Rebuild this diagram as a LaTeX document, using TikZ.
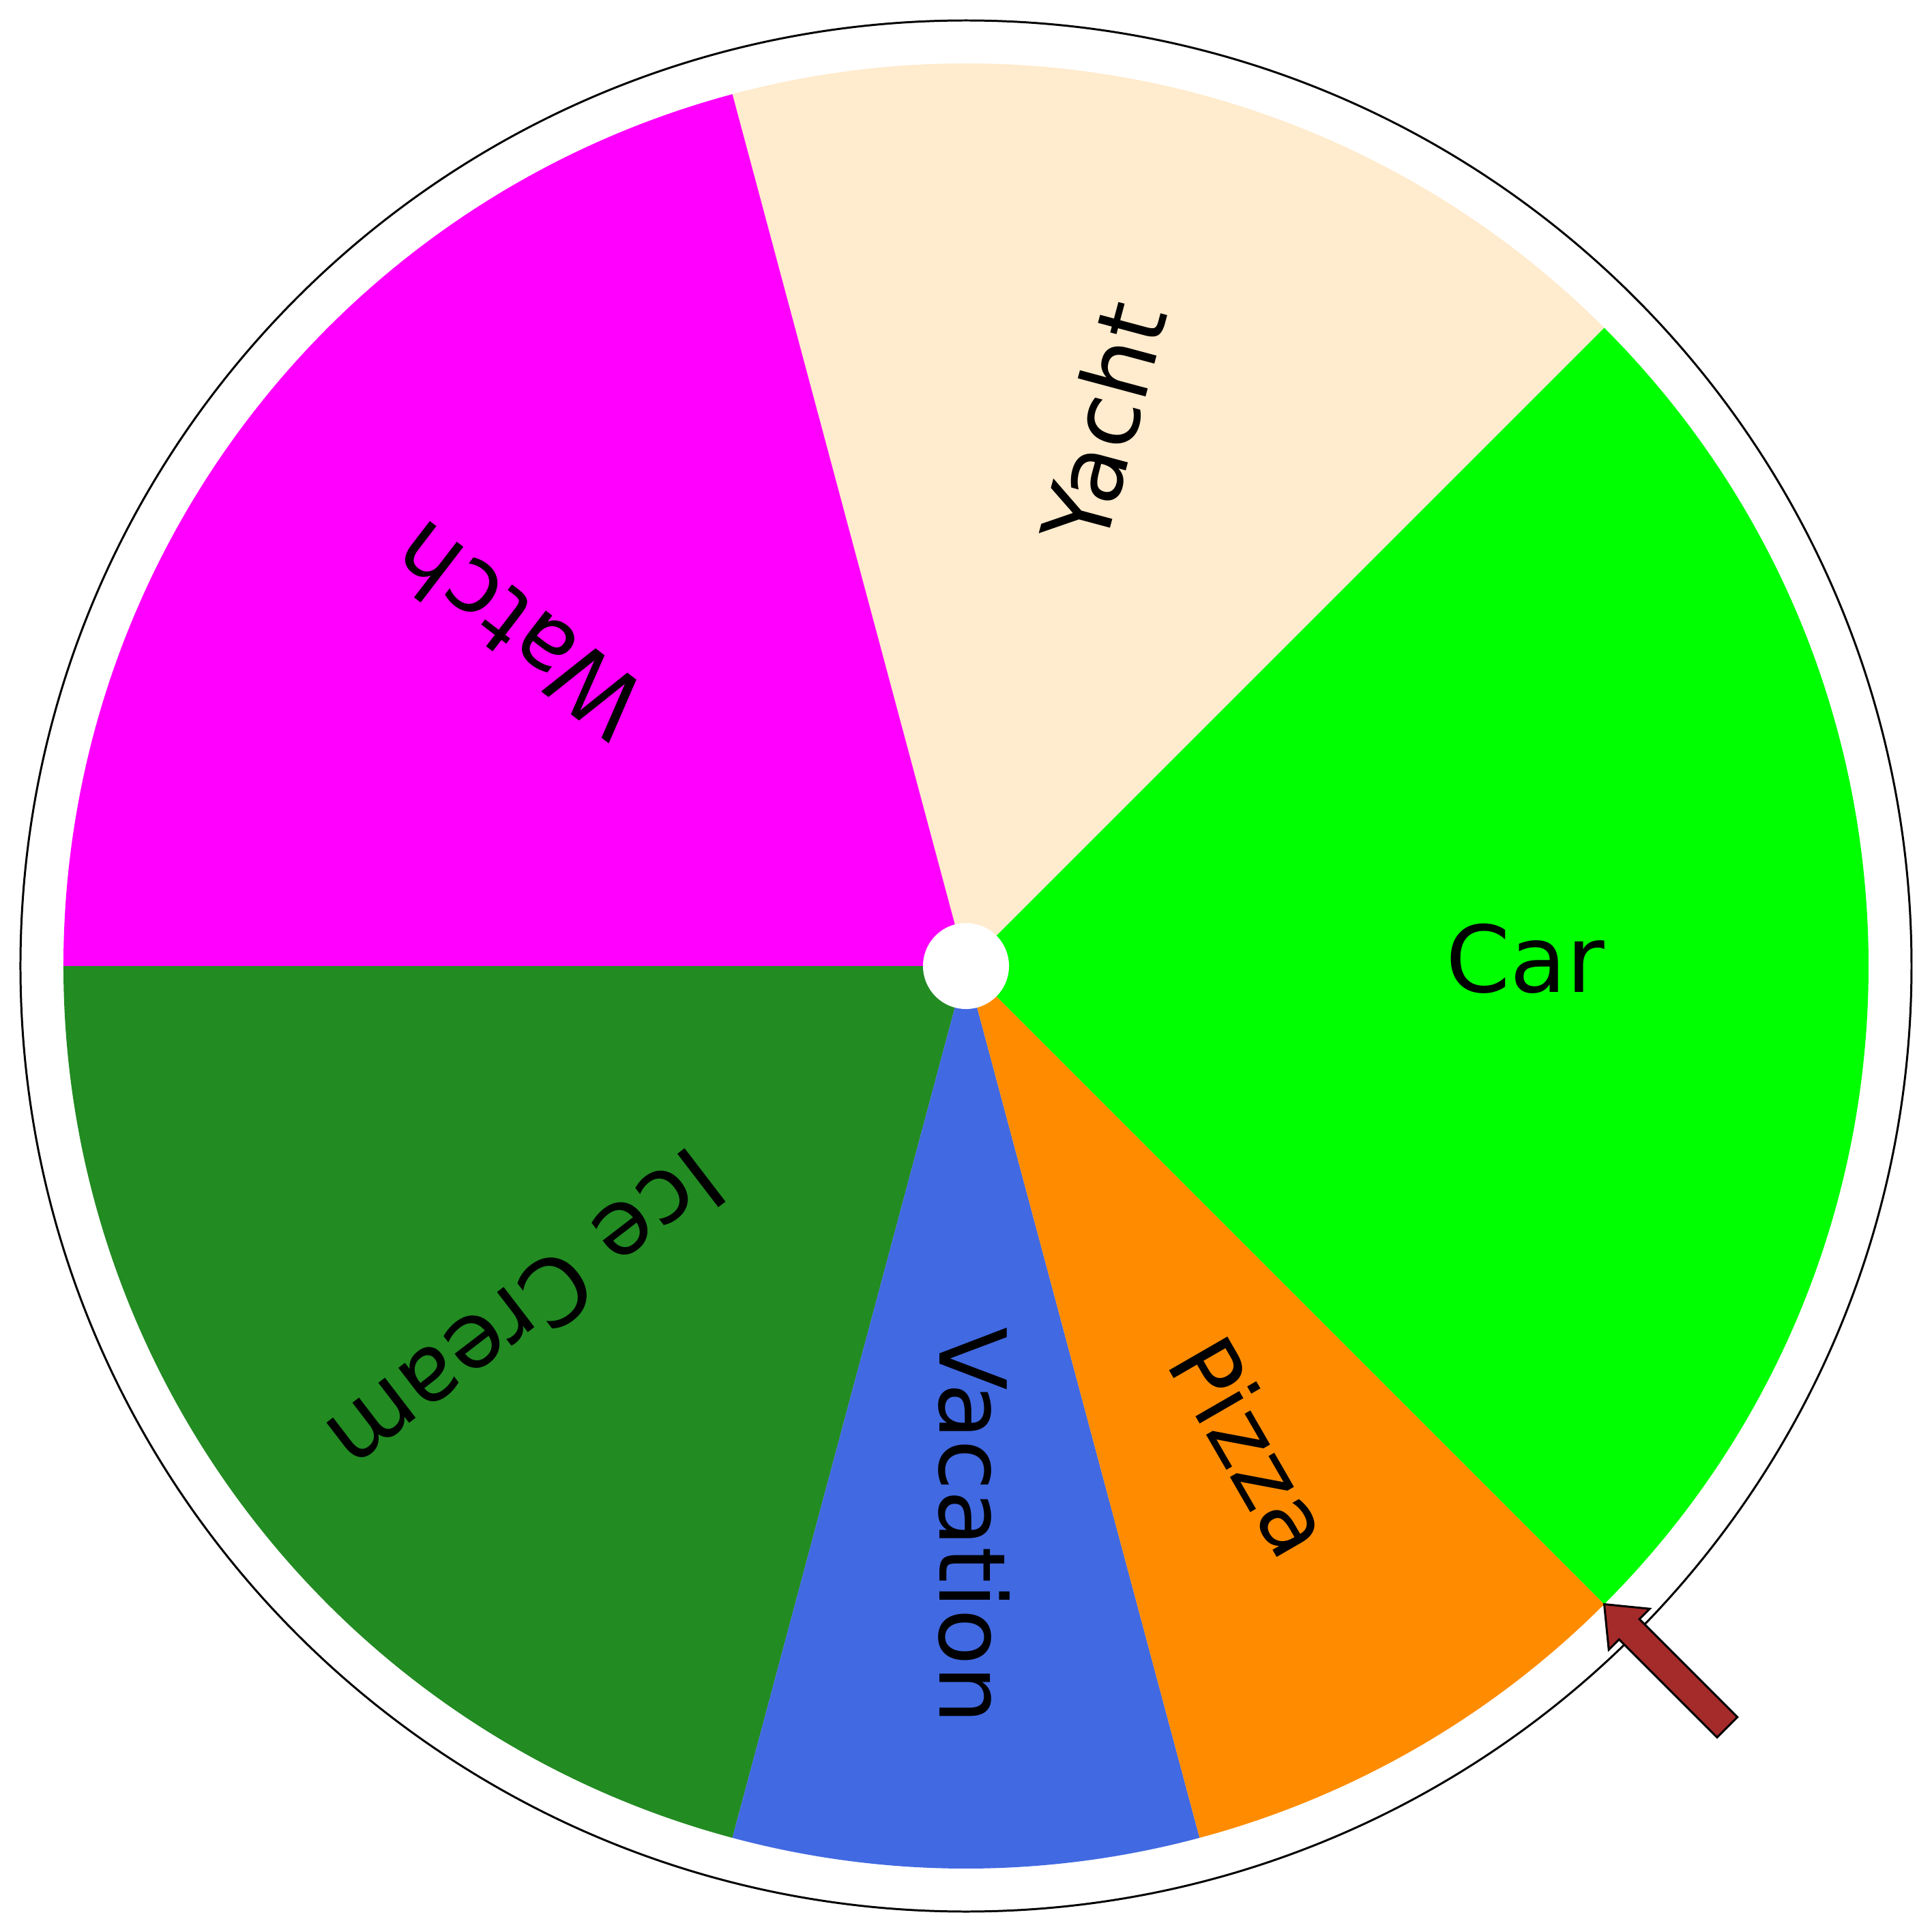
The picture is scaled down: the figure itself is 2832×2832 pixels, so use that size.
\documentclass[tikz,border=0pt]{standalone}
\usepackage{fontspec}
\setmainfont{DejaVu Sans}
\definecolor{carC}{HTML}{00FF00}
\definecolor{yachtC}{HTML}{FFEBCD}
\definecolor{watchC}{HTML}{FF00FF}
\definecolor{iceC}{HTML}{228B22}
\definecolor{vacC}{HTML}{4169E1}
\definecolor{pizzaC}{HTML}{FF8C00}
\definecolor{arrowC}{HTML}{A52A2A}
\begin{document}
\begin{tikzpicture}[x=0.01cm,y=0.01cm,
  slice/.style={fill=#1,draw=none},
  lbl/.style={font=\fontsize{38.5}{46}\selectfont,text=black,inner sep=0pt,anchor=center,text height=26pt,text depth=4pt}]
\useasboundingbox (-1416,-1416) rectangle (1416,1416);
\fill[white] (-1416,-1416) rectangle (1416,1416);
\def\R{1323}
% slices
\fill[slice=carC] (0,0) -- (-45:\R) arc[start angle=-45,end angle=45,radius=\R] -- cycle;
\fill[slice=yachtC] (0,0) -- (45:\R) arc[start angle=45,end angle=105,radius=\R] -- cycle;
\fill[slice=watchC] (0,0) -- (105:\R) arc[start angle=105,end angle=180,radius=\R] -- cycle;
\fill[slice=iceC] (0,0) -- (180:\R) arc[start angle=180,end angle=255,radius=\R] -- cycle;
\fill[slice=vacC] (0,0) -- (255:\R) arc[start angle=255,end angle=285,radius=\R] -- cycle;
\fill[slice=pizzaC] (0,0) -- (285:\R) arc[start angle=285,end angle=315,radius=\R] -- cycle;
% hub
\node[circle,fill=white,minimum size=1.26cm,inner sep=0pt] (hub) at (0,0) {};
% outer rim
\draw[line width=0.85pt] (0,0) circle[radius=1386];
% labels
\node[lbl,rotate=0] (car) at (0:820) {Car};
\node[lbl,rotate=75] (yacht) at (75:820) {Yacht};
\node[lbl,rotate=142.5] (watch) at (142.5:820) {Watch};
\node[lbl,rotate=217.5] (ice) at (217.5:820) {Ice Cream};
\node[lbl,rotate=270] (vac) at (270:820) {Vacation};
\node[lbl,rotate=300] (pizza) at (300:820) {Pizza};
% pointer arrow
\coordinate (tip) at (-45:\R);
\begin{scope}[shift={(tip)},rotate=-45]
\draw[fill=arrowC,line width=0.85pt,line join=miter] (0,0) -- (52,42.5) -- (52,21) -- (255,21) -- (255,-21) -- (52,-21) -- (52,-42.5) -- cycle;
\end{scope}
\end{tikzpicture}
\end{document}
